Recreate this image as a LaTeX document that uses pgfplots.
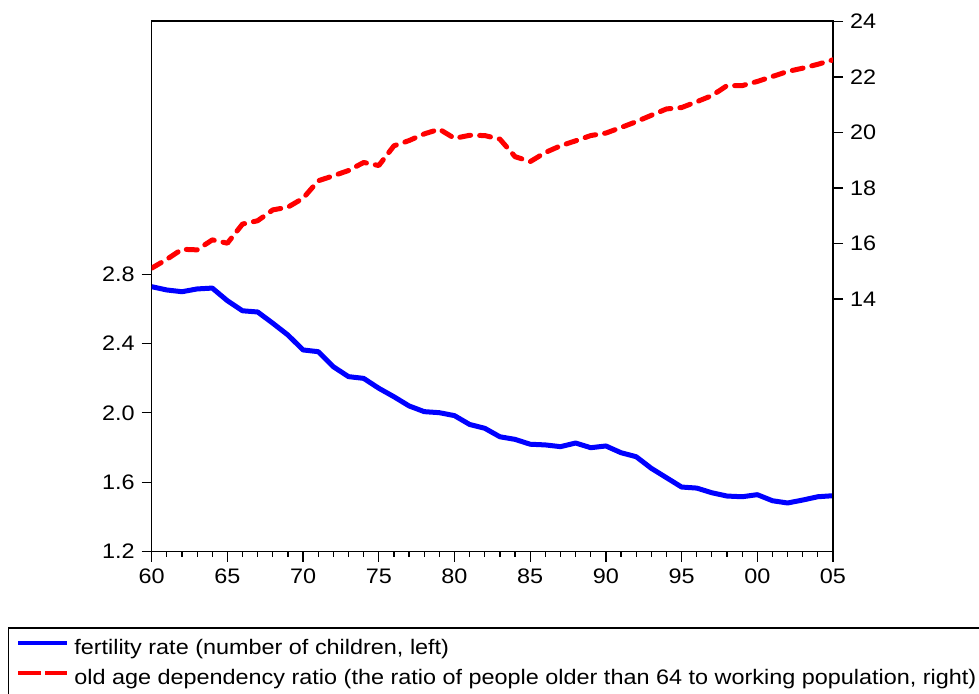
\documentclass[border=0pt]{standalone}
\usepackage{pgfplots}
\pgfplotsset{compat=1.18}
\usepackage{fontspec}
\setmainfont[FakeStretch=1.115]{Liberation Sans}
\begin{document}
\begin{tikzpicture}
\useasboundingbox (-75.85pt,-70.75pt) rectangle (413.65pt,275.75pt);
\pgfplotsset{
  common/.style={
    scale only axis, width=340.65pt, height=265.25pt,
    xmin=1960, xmax=2005,
    tick align=outside,
    /pgf/number format/assume math mode=true,
    tick label style={font=\fontsize{10.5}{12}\selectfont},
    major tick length=5pt, minor tick length=2.5pt,
    tick style={black, line width=0.6pt},
    axis line style={black, line width=0.7pt},
  }
}
\begin{axis}[common,
  ymin=1.2, ymax=4.261,
  ytick={1.2,1.6,2.0,2.4,2.8},
  yticklabel style={/pgf/number format/.cd, fixed, fixed zerofill, precision=1},
  xtick={1960,1965,...,2005},
  xticklabels={60,65,70,75,80,85,90,95,00,05},
  minor x tick num=4,
  tick pos=left,
]
\addplot[blue, line width=2.5pt, line join=round] coordinates {
(1960,2.728) (1961,2.709) (1962,2.699) (1963,2.715) (1964,2.720)
(1965,2.647) (1966,2.589) (1967,2.582) (1968,2.517) (1969,2.449)
(1970,2.363) (1971,2.353) (1972,2.266) (1973,2.209) (1974,2.199)
(1975,2.142) (1976,2.093) (1977,2.040) (1978,2.007) (1979,2.001)
(1980,1.984) (1981,1.933) (1982,1.911) (1983,1.862) (1984,1.847)
(1985,1.819) (1986,1.815) (1987,1.805) (1988,1.826) (1989,1.799)
(1990,1.809) (1991,1.770) (1992,1.747) (1993,1.680) (1994,1.626)
(1995,1.572) (1996,1.566) (1997,1.539) (1998,1.520) (1999,1.516)
(2000,1.528) (2001,1.493) (2002,1.480) (2003,1.497) (2004,1.516)
(2005,1.522)
};
\end{axis}
\begin{axis}[common,
  ymin=4.895, ymax=24.02,
  axis y line*=right, axis x line=none,
  ytick={14,16,...,24},
  legend style={at={(axis description cs:0,0)}, anchor=north west,
    xshift=-71.7pt, yshift=-37.9pt, draw=black, line width=0.6pt,
    font=\fontsize{10.5}{12}\selectfont,
    inner xsep=3.7pt, inner ysep=5.5pt, row sep=4.35pt, column sep=2.5pt,
    nodes={inner sep=0pt, text height=8pt, text depth=2.5pt}},
  legend cell align=left,
]
\addlegendimage{blue, line width=2pt, legend image code/.code={\draw[blue, line width=2pt] (0pt,3.3pt) -- (24.5pt,3.3pt);}}
\addlegendentry{fertility rate (number of children, left)}
\addplot[red, line width=2.5pt, dash pattern=on 5.5pt off 4.5pt, line cap=round, line join=round,
  legend image code/.code={\draw[red, line width=2pt, line cap=butt, dash pattern=on 11.5pt off 2pt] (0pt,3.3pt) -- (24.5pt,3.3pt);}] coordinates {
(1960,15.11) (1961,15.43) (1962,15.79) (1963,15.77) (1964,16.13)
(1965,16.01) (1966,16.70) (1967,16.82) (1968,17.21) (1969,17.31)
(1970,17.63) (1971,18.26) (1972,18.44) (1973,18.63) (1974,18.92)
(1975,18.81) (1976,19.52) (1977,19.71) (1978,19.95) (1979,20.12)
(1980,19.79) (1981,19.90) (1982,19.89) (1983,19.76) (1984,19.13)
(1985,18.95) (1986,19.28) (1987,19.52) (1988,19.70) (1989,19.89)
(1990,19.98) (1991,20.18) (1992,20.39) (1993,20.62) (1994,20.85)
(1995,20.90) (1996,21.11) (1997,21.33) (1998,21.69) (1999,21.69)
(2000,21.84) (2001,22.02) (2002,22.20) (2003,22.32) (2004,22.46)
(2005,22.62)
};
\addlegendentry{old age dependency ratio (the ratio of people older than 64 to working population, right)}
\end{axis}
\end{tikzpicture}
\end{document}
